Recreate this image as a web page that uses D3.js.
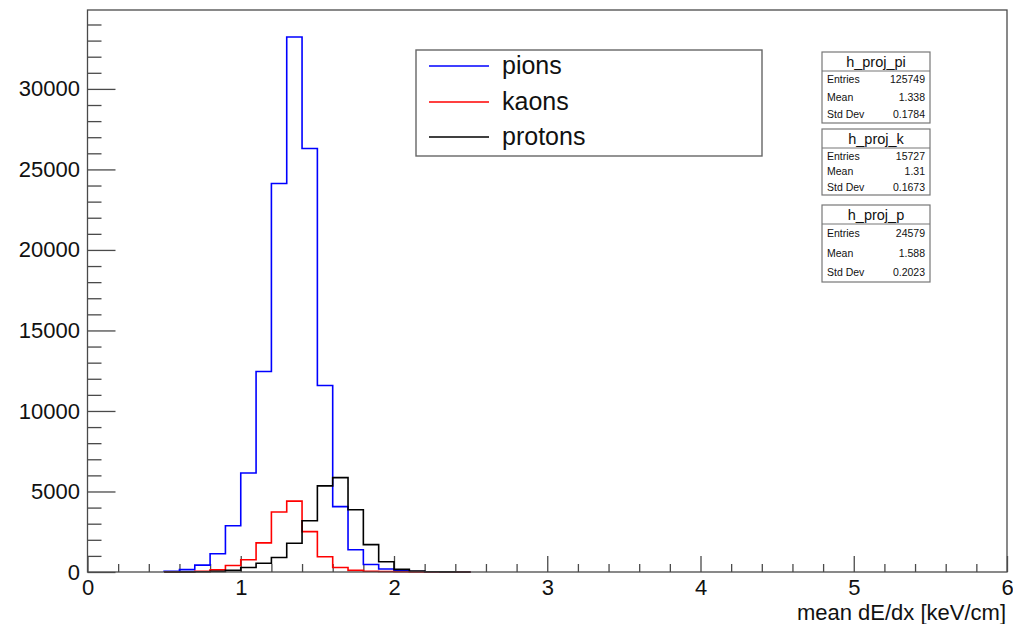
<!DOCTYPE html>
<html>
<head>
<meta charset="utf-8">
<script src="https://cdn.jsdelivr.net/npm/d3@7"></script>
<style>
  html, body { margin: 0; padding: 0; background: #fff; }
  svg { display: block; }
  text { font-family: "Liberation Sans", Arial, Helvetica, sans-serif; fill: #111; }
</style>
</head>
<body>
<svg id="chart" width="1013" height="624"></svg>
<script>
// Histogram bins: lower edges (keV/cm), each 0.1 wide
const binStart = [0.5, 0.6, 0.7, 0.8, 0.9, 1.0, 1.1, 1.2, 1.3, 1.4,
                  1.5, 1.6, 1.7, 1.8, 1.9, 2.0, 2.1, 2.2, 2.3, 2.4];
const binWidth = 0.1;

// Counts per bin
const pions   = [40, 150, 430, 1130, 2870, 6150, 12450, 24130, 33220, 26300,
                 11580, 4060, 1380, 470, 190, 90, 30, 10, 0, 0];
const kaons   = [0, 10, 40, 130, 400, 760, 1810, 3730, 4400, 2510,
                 950, 280, 100, 50, 30, 20, 10, 10, 5, 0];
const protons = [0, 10, 20, 40, 100, 280, 540, 900, 1790, 3180,
                 5350, 5860, 3870, 1700, 640, 160, 60, 20, 10, 0];

const seriesNames  = ["pions", "kaons", "protons"];
const seriesColors = ["#0000ff", "#ff0000", "#000000"];

// Statistics boxes
const statTitles  = ["h_proj_pi", "h_proj_k", "h_proj_p"];
const statEntries = ["125749", "15727", "24579"];
const statMeans   = ["1.338", "1.31", "1.588"];
const statStdDevs = ["0.1784", "0.1673", "0.2023"];

// Axes
const xDomain = [0, 6];
const yDomain = [0, 34900];
const xMajorTicks = [0, 1, 2, 3, 4, 5, 6];
const yMajorTicks = [0, 5000, 10000, 15000, 20000, 25000, 30000];
const xTitle = "mean dE/dx [keV/cm]";

const svg = d3.select("#chart");
const frame = { left: 87.5, right: 1007, top: 10, bottom: 572 };

const x = d3.scaleLinear().domain(xDomain).range([frame.left, frame.right]);
const y = d3.scaleLinear().domain(yDomain).range([frame.bottom, frame.top]);

const axisColor = "#4a4a4a";

// Minor tick positions
const xMinor = d3.range(0, 6.0001, 0.2).filter(v => Math.abs(v - Math.round(v)) > 1e-6);
const yMinor = d3.range(0, yDomain[1], 1000).filter(v => v % 5000 !== 0);

function styleAxis(g) {
  g.select(".domain").remove();
  g.selectAll(".tick line").attr("stroke", axisColor).attr("stroke-width", 1.3);
}

// x axis: minor then major ticks (drawn inward)
svg.append("g")
  .attr("transform", `translate(0,${frame.bottom})`)
  .call(d3.axisBottom(x).tickValues(xMinor).tickSize(-8).tickFormat(""))
  .call(styleAxis);
svg.append("g")
  .attr("transform", `translate(0,${frame.bottom})`)
  .call(d3.axisBottom(x).tickValues(xMajorTicks).tickSize(-16).tickPadding(7).tickFormat(d3.format("d")))
  .call(styleAxis)
  .call(g => g.selectAll("text").attr("font-size", 22).style("fill", "#111"));

// y axis
svg.append("g")
  .attr("transform", `translate(${frame.left},0)`)
  .call(d3.axisLeft(y).tickValues(yMinor).tickSize(-14).tickFormat(""))
  .call(styleAxis);
svg.append("g")
  .attr("transform", `translate(${frame.left},0)`)
  .call(d3.axisLeft(y).tickValues(yMajorTicks).tickSize(-28).tickPadding(7.5).tickFormat(d3.format("d")))
  .call(styleAxis)
  .call(g => g.selectAll("text").attr("font-size", 22).style("fill", "#111"));

// Histogram outlines as step paths
function stepPoints(counts) {
  const pts = [[binStart[0], 0]];
  counts.forEach((c, i) => {
    pts.push([binStart[i], c]);
    pts.push([binStart[i] + binWidth, c]);
  });
  pts.push([binStart[binStart.length - 1] + binWidth, 0]);
  return pts;
}
const line = d3.line().x(d => x(d[0])).y(d => y(d[1]));
[pions, kaons, protons].forEach((counts, i) => {
  svg.append("path")
    .attr("d", line(stepPoints(counts)))
    .attr("fill", "none")
    .attr("stroke", seriesColors[i])
    .attr("stroke-width", 1.6)
    .attr("stroke-linejoin", "miter");
});

// Frame
svg.append("rect")
  .attr("x", frame.left).attr("y", frame.top)
  .attr("width", frame.right - frame.left).attr("height", frame.bottom - frame.top)
  .attr("fill", "none").attr("stroke", axisColor).attr("stroke-width", 1.3);

// Axis title
svg.append("text")
  .attr("x", 1006).attr("y", 619.5)
  .attr("text-anchor", "end")
  .attr("font-size", 22)
  .text(xTitle);

// Legend
const legend = svg.append("g");
legend.append("rect")
  .attr("x", 416).attr("y", 50).attr("width", 346).attr("height", 106)
  .attr("fill", "#fff").attr("stroke", "#666").attr("stroke-width", 1.4);
const legendRows = [66, 102, 137];
seriesNames.forEach((name, i) => {
  legend.append("line")
    .attr("x1", 429).attr("x2", 489)
    .attr("y1", legendRows[i]).attr("y2", legendRows[i])
    .attr("stroke", seriesColors[i]).attr("stroke-width", 1.6);
  legend.append("text")
    .attr("x", 502).attr("y", legendRows[i])
    .attr("dy", "0.32em")
    .attr("font-size", 25)
    .text(name);
});

// Statistics boxes
const boxLeft = 822, boxRight = 930;
const boxTops = [52, 129, 205];
const boxBottoms = [123, 195, 282];
statTitles.forEach((title, i) => {
  const top = boxTops[i], bottom = boxBottoms[i];
  const sep = top + 19;
  const g = svg.append("g");
  g.append("rect")
    .attr("x", boxLeft).attr("y", top)
    .attr("width", boxRight - boxLeft).attr("height", bottom - top)
    .attr("fill", "#fff").attr("stroke", "#777").attr("stroke-width", 1.2);
  g.append("line")
    .attr("x1", boxLeft).attr("x2", boxRight)
    .attr("y1", sep).attr("y2", sep)
    .attr("stroke", "#777").attr("stroke-width", 1.2);
  g.append("text")
    .attr("x", (boxLeft + boxRight) / 2).attr("y", top + 9.5)
    .attr("dy", "0.35em").attr("text-anchor", "middle")
    .attr("font-size", 14.5)
    .text(title);
  const rowH = (bottom - sep) / 3;
  const labels = ["Entries", "Mean", "Std Dev"];
  const values = [statEntries[i], statMeans[i], statStdDevs[i]];
  labels.forEach((lab, j) => {
    const cy = sep + rowH * (j + 0.5);
    g.append("text")
      .attr("x", boxLeft + 5).attr("y", cy).attr("dy", "0.35em")
      .attr("font-size", 10.5).text(lab);
    g.append("text")
      .attr("x", boxRight - 5).attr("y", cy).attr("dy", "0.35em")
      .attr("text-anchor", "end")
      .attr("font-size", 10.5).text(values[j]);
  });
});
</script>
</body>
</html>
